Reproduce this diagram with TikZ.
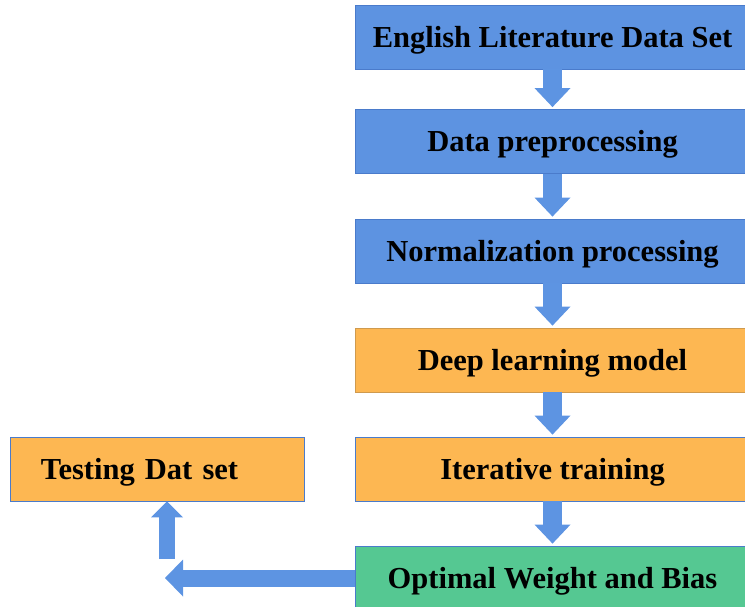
\documentclass[tikz,border=0pt]{standalone}
\usepackage{fontspec}
\setmainfont{Liberation Serif}
\usetikzlibrary{arrows.meta}

\definecolor{boxblue}{HTML}{5D93E1}
\definecolor{lineblue}{HTML}{4A7BCB}
\definecolor{boxorange}{HTML}{FDB752}
\definecolor{lineorange}{HTML}{CF9A4E}
\definecolor{boxgreen}{HTML}{55C892}
\definecolor{arrblue}{HTML}{5D94E2}

\begin{document}
\begin{tikzpicture}[x=1pt,y=-1pt,
  stage/.style={draw=lineblue, line width=0.8pt, minimum width=395pt, minimum height=64pt,
    inner sep=0pt, text height=21pt, text depth=1pt,
    font=\fontsize{30.5}{36}\selectfont\bfseries},
  fat/.style={color=arrblue, line width=19pt, -{Triangle[width=36pt,length=19pt,line width=0pt]}}]

\useasboundingbox (0,0) rectangle (745,606);

\node [stage, fill=boxblue] (data) at (552.5,37) {English Literature Data Set};
\node [stage, fill=boxblue] (prep) at (552.5,141.5) {Data preprocessing};
\node [stage, fill=boxblue] (norm) at (552.5,251) {Normalization processing};
\node [stage, fill=boxorange, draw=lineorange] (model) at (552.5,360) {Deep learning model};
\node [stage, fill=boxorange] (train) at (552.5,469) {Iterative training};
\node [stage, fill=boxgreen] (best) at (552.5,578) {Optimal Weight and Bias};

% testing box, text set to the left
\node [stage, fill=boxorange, minimum width=294pt, text width=232pt, align=left,
  inner xsep=31pt] (test) at (157,469) {Testing Dat set};

\draw[fat, shorten >=2pt] (data) -- (prep);
\draw[fat, shorten >=2pt] (prep) -- (norm);
\draw[fat, shorten >=2pt] (norm) -- (model);
\draw[fat, shorten >=2pt] (model) -- (train);
\draw[fat, shorten >=2pt] (train) -- (best);

\coordinate (left) at (165,578);
\coordinate (up) at (167,559);
\draw[fat, line width=17pt, -{Triangle[width=37pt,length=18pt,line width=0pt]}] (best.west) -- (left);
\draw[fat, line width=16pt, -{Triangle[width=32pt,length=16pt,line width=0pt]}] (up) -- (up |- test.south);
\end{tikzpicture}
\end{document}
